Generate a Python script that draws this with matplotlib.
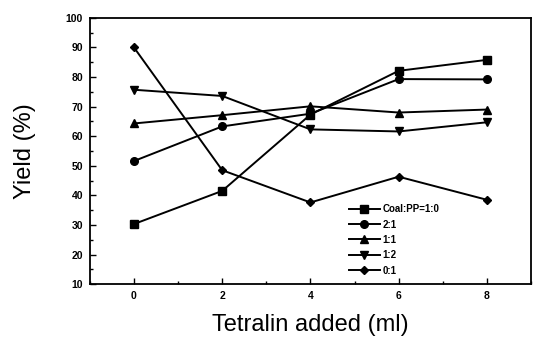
import matplotlib
matplotlib.use('Agg')
import matplotlib.pyplot as plt
from matplotlib.ticker import MultipleLocator

plt.rcParams['font.family'] = ['Liberation Sans', 'DejaVu Sans']

# Tetralin added (ml)
tetralin = [0, 2, 4, 6, 8]

# yield (%) for each Coal:PP ratio
coal_1_0 = [30.3, 41.5, 67.3, 82.1, 85.8]
coal_2_1 = [51.6, 63.3, 67.6, 79.3, 79.2]
coal_1_1 = [64.3, 67.1, 70.1, 68.0, 69.0]
coal_1_2 = [75.7, 73.6, 62.3, 61.6, 64.7]
coal_0_1 = [90.0, 48.5, 37.6, 46.3, 38.5]

labels = ['Coal:PP=1:0', '2:1', '1:1', '1:2', '0:1']
markers = ['s', 'o', '^', 'v', 'D']
series = [coal_1_0, coal_2_1, coal_1_1, coal_1_2, coal_0_1]

fig = plt.figure(figsize=(5.38, 3.37), dpi=100)
ax = fig.add_axes([0.167, 0.157, 0.82, 0.79])

for ys, m, lab in zip(series, markers, labels):
    ms = 4.5 if m == 'D' else 5.5
    ax.plot(tetralin, ys, color='black', linewidth=1.4, marker=m,
            markersize=ms, label=lab)

ax.set_xlim(-1, 9)
ax.set_ylim(10, 100)
ax.xaxis.set_major_locator(MultipleLocator(2))
ax.xaxis.set_minor_locator(MultipleLocator(1))
ax.yaxis.set_major_locator(MultipleLocator(10))
ax.yaxis.set_minor_locator(MultipleLocator(5))
ax.tick_params(which='both', direction='in', width=1.0, color='black')
ax.tick_params(which='major', length=4, labelsize=7.5, pad=5)
ax.tick_params(which='minor', length=2)
for lab in ax.get_xticklabels() + ax.get_yticklabels():
    lab.set_fontweight('bold')
for sp in ax.spines.values():
    sp.set_linewidth(1.3)

ax.set_xlabel('Tetralin added (ml)', fontsize=17, labelpad=9)
ax.set_ylabel('Yield (%)', fontsize=17, labelpad=21)

leg = ax.legend(loc='lower right', bbox_to_anchor=(0.805, 0.01), frameon=False,
                prop={'size': 7, 'weight': 'bold'}, handlelength=3.2,
                handletextpad=0.25, labelspacing=0.55, borderaxespad=0.2)

fig.savefig('out.png', dpi=100)
